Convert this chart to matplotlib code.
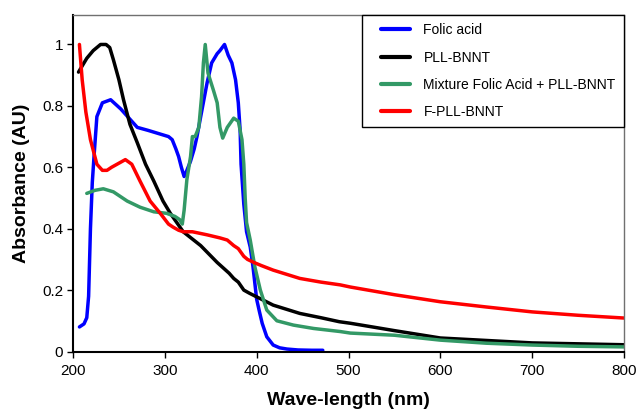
import matplotlib
matplotlib.use("Agg")
import matplotlib.pyplot as plt
from matplotlib.lines import Line2D
from matplotlib.legend_handler import HandlerLine2D

plt.rcParams['font.family'] = ['Liberation Sans', 'DejaVu Sans']

# Folic acid
wl_fa = [207, 212, 215, 217, 219, 221, 223, 226, 232, 241, 252, 261, 270, 282, 293, 304, 308, 312, 315, 318,
         321, 324, 328, 332, 335, 340, 346, 351, 357, 360, 365, 369, 373, 377, 380, 382, 383, 386, 389, 393,
         396, 400, 403, 406, 411, 418, 425, 433, 445, 460, 472]
a_fa = [0.08, 0.09, 0.11, 0.18, 0.40, 0.55, 0.64, 0.765, 0.81, 0.82, 0.79, 0.76, 0.73, 0.72, 0.71, 0.70, 0.69,
        0.66, 0.635, 0.60, 0.57, 0.59, 0.62, 0.66, 0.70, 0.78, 0.875, 0.94, 0.97, 0.98, 1.0, 0.965, 0.94, 0.885,
        0.81, 0.72, 0.61, 0.48, 0.39, 0.34, 0.276, 0.17, 0.13, 0.092, 0.048, 0.021, 0.012, 0.008, 0.005, 0.004, 0.004]

# PLL-BNNT
wl_pll = [206, 210, 215, 222, 230, 236, 240, 244, 250, 255, 262, 270, 279, 288, 298, 306, 320, 339, 357, 370,
          375, 380, 386, 392, 400, 418, 447, 470, 490, 502, 550, 600, 650, 700, 750, 800]
a_pll = [0.91, 0.93, 0.955, 0.98, 1.0, 1.0, 0.99, 0.95, 0.885, 0.82, 0.74, 0.68, 0.61, 0.555, 0.49, 0.45, 0.39,
         0.345, 0.29, 0.255, 0.238, 0.226, 0.20, 0.19, 0.178, 0.151, 0.124, 0.11, 0.097, 0.092, 0.068, 0.044,
         0.036, 0.028, 0.025, 0.022]

# Mixture Folic Acid + PLL-BNNT
wl_mix = [215, 224, 233, 244, 259, 273, 288, 302, 311, 316, 319, 321, 324, 328, 330, 333, 337, 340, 342, 344,
          347, 353, 357, 360, 363, 368, 375, 380, 384, 386, 387.5, 389, 393, 398, 404, 411, 422, 440, 462, 491,
          502, 550, 600, 650, 700, 750, 800]
a_mix = [0.515, 0.525, 0.53, 0.52, 0.49, 0.47, 0.455, 0.45, 0.44, 0.43, 0.415, 0.46, 0.56, 0.635, 0.70, 0.70,
         0.73, 0.83, 0.94, 1.0, 0.907, 0.85, 0.81, 0.73, 0.695, 0.73, 0.76, 0.75, 0.69, 0.61, 0.50, 0.42, 0.363,
         0.276, 0.20, 0.135, 0.10, 0.086, 0.075, 0.065, 0.06, 0.053, 0.037, 0.027, 0.021, 0.017, 0.015]

# F-PLL-BNNT
wl_f = [207, 210, 214, 219, 226, 232, 237, 242, 248, 257, 264, 273, 284, 295, 304, 309, 315, 320, 325, 330,
        346, 360, 368, 375, 380, 386, 390, 397, 405, 418, 447, 470, 491, 502, 550, 600, 650, 700, 750, 800]
a_f = [1.0, 0.885, 0.78, 0.69, 0.61, 0.59, 0.59, 0.60, 0.61, 0.625, 0.61, 0.555, 0.49, 0.45, 0.415, 0.405,
       0.395, 0.39, 0.39, 0.39, 0.38, 0.37, 0.363, 0.345, 0.335, 0.31, 0.30, 0.29, 0.28, 0.265, 0.238, 0.226,
       0.217, 0.21, 0.185, 0.162, 0.145, 0.129, 0.118, 0.109]

labels = ["Folic acid", "PLL-BNNT", "Mixture Folic Acid + PLL-BNNT", "F-PLL-BNNT"]
colors = ["#0000ff", "#000000", "#339966", "#ff0000"]
x_ticks = [200, 300, 400, 500, 600, 700, 800]
y_ticks = [0, 0.2, 0.4, 0.6, 0.8, 1]
y_ticklabels = ["0", "0.2", "0.4", "0.6", "0.8", "1"]

fig = plt.figure(figsize=(6.4, 4.09), dpi=100)
ax = fig.add_axes([73 / 640, 1 - 351.5 / 409, (624 - 73) / 640, (351.5 - 15) / 409])

series = [(wl_fa, a_fa), (wl_pll, a_pll), (wl_mix, a_mix), (wl_f, a_f)]
for (x, y), lab, c in zip(series, labels, colors):
    ax.plot(x, y, color=c, lw=2.5, label=lab, solid_joinstyle='round', solid_capstyle='round')

ax.set_xlim(200, 800)
ax.set_ylim(0, 1.096)
ax.set_xticks(x_ticks)
ax.set_yticks(y_ticks)
ax.set_yticklabels(y_ticklabels)
ax.tick_params(direction='out', length=4, width=1, labelsize=11, pad=3)
ax.tick_params(axis='x', pad=5)

for s in ['left', 'bottom']:
    ax.spines[s].set_color('black')
    ax.spines[s].set_linewidth(1.5)
for s in ['top', 'right']:
    ax.spines[s].set_color('#707070')
    ax.spines[s].set_linewidth(1.0)

ax.set_xlabel("Wave-length (nm)", fontsize=14, fontweight='bold', labelpad=10)
ax.set_ylabel("Absorbance (AU)", fontsize=14, fontweight='bold', labelpad=9)

fs = 10 * 100 / 72.0
leg = ax.legend(loc='upper right', bbox_to_anchor=(1, 1), borderaxespad=0, fontsize=10,
                frameon=True, fancybox=False, edgecolor='black', framealpha=1,
                handlelength=(11 + 29) / fs, handletextpad=13 / fs, borderpad=0.6,
                labelspacing=0.95,
                handler_map={Line2D: HandlerLine2D(xpad=11 / fs)})
leg.get_frame().set_linewidth(1.0)
for lh in leg.get_lines():
    lh.set_linewidth(3)

fig.savefig("out.png", dpi=100)
